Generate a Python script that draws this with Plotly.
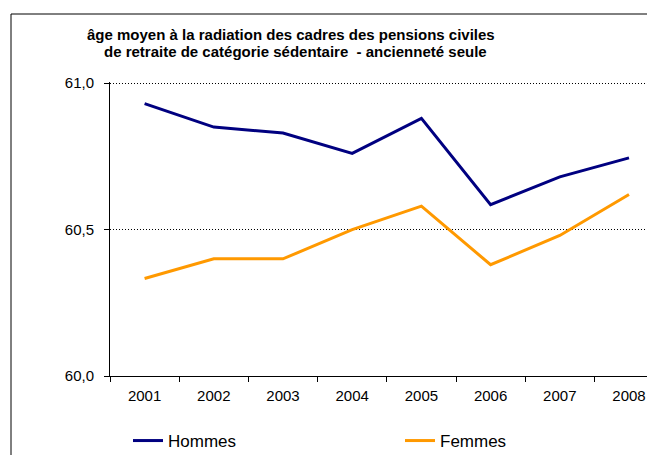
import plotly.graph_objects as go

years = ["2001", "2002", "2003", "2004", "2005", "2006", "2007", "2008"]
hommes = [60.93, 60.85, 60.83, 60.76, 60.88, 60.585, 60.68, 60.745]
femmes = [60.333, 60.40, 60.40, 60.50, 60.58, 60.38, 60.48, 60.62]
y_ticks = [60.0, 60.5, 61.0]
y_labels = ["60,0", "60,5", "61,0"]

title_lines = ["âge moyen à la radiation des cadres des pensions civiles",
               "de retraite de catégorie sédentaire  - ancienneté seule"]

# page body has an 8px margin, so the figure is shifted by 8px
OFF = 8
W, H = 655 - OFF, 455 - OFF
L, R, T, B = 110 - OFF, 0, 82 - OFF, 455 - 376
pw, ph = W - L - R, H - T - B
step = 69.2  # px per category

narrow = "Liberation Sans Narrow, Arial Narrow, Liberation Sans, Arial"
tick_font = dict(family="Liberation Sans, Arial", size=15, color="black")

fig = go.Figure()
fig.add_trace(go.Scatter(x=years, y=hommes, mode="lines", name="Hommes",
                         line=dict(color="#000080", width=3), legend="legend"))
fig.add_trace(go.Scatter(x=years, y=femmes, mode="lines", name="Femmes",
                         line=dict(color="#FF9900", width=3), legend="legend2"))

# outer frame of the chart
fig.add_shape(type="rect", xref="paper", yref="paper",
              x0=(11 - OFF - L) / pw, x1=1.2, y0=-0.5,
              y1=(H - B - (14 - OFF)) / ph,
              line=dict(color="black", width=1))

# two-line title, placed line by line
for txt, cx, cy in zip(title_lines, [291, 295], [34, 51]):
    fig.add_annotation(text="<b>" + txt + "</b>", xref="paper", yref="paper",
                       x=(cx - OFF - L) / pw, y=(H - B - (cy - OFF)) / ph,
                       xanchor="center", yanchor="middle", showarrow=False,
                       font=dict(family=narrow, size=15, color="black"))

leg = dict(orientation="h", xref="container", yref="container",
           xanchor="left", yanchor="middle", y=1 - (441 - OFF) / H,
           font=dict(family=narrow, size=17, color="black"),
           bgcolor="rgba(0,0,0,0)")

fig.update_layout(
    width=W, height=H,
    margin=dict(l=L, r=R, t=T, b=B, autoexpand=False),
    paper_bgcolor="white", plot_bgcolor="white",
    xaxis=dict(type="category", range=[-0.5, -0.5 + pw / step],
               tickson="boundaries", ticks="outside", ticklen=5,
               tickcolor="black", showline=True, linecolor="black",
               linewidth=1, showgrid=False, tickfont=tick_font,
               ticklabelstandoff=6),
    yaxis=dict(range=[60, 61.004], tickvals=y_ticks, ticktext=y_labels,
               ticks="outside", ticklen=5, tickcolor="black",
               showline=True, linecolor="black", linewidth=1,
               showgrid=True, gridcolor="black", griddash="1px,2px", gridwidth=1,
               zeroline=False, tickfont=tick_font, ticklabelstandoff=7),
    showlegend=True,
    legend=dict(leg, x=(128 - OFF) / W),
    legend2=dict(leg, x=(400 - OFF) / W),
)

fig.write_html("out.html")
